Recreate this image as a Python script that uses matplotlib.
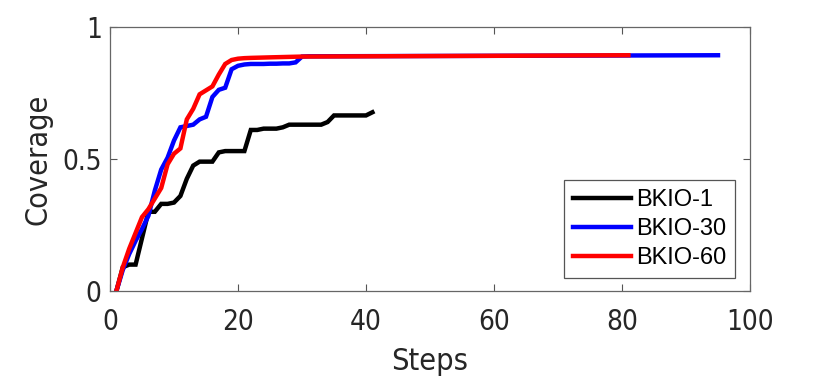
import matplotlib
matplotlib.use("Agg")
import matplotlib.pyplot as plt

# coverage per step
steps_1 = list(range(1, 42))
cov_1 = [0, 0.09, 0.1, 0.1, 0.2, 0.3, 0.3, 0.33, 0.33, 0.335,
         0.36, 0.425, 0.475, 0.49, 0.49, 0.49, 0.525, 0.53, 0.53, 0.53,
         0.53, 0.61, 0.61, 0.615, 0.615, 0.615, 0.62, 0.63, 0.63, 0.63,
         0.63, 0.63, 0.63, 0.64, 0.665, 0.665, 0.665, 0.665, 0.665, 0.665,
         0.677]

steps_30 = list(range(1, 32)) + [95]
cov_30 = [0, 0.08, 0.14, 0.19, 0.235, 0.285, 0.38, 0.46, 0.505, 0.57,
          0.62, 0.625, 0.63, 0.65, 0.66, 0.735, 0.762, 0.77, 0.84, 0.853,
          0.858, 0.86, 0.86, 0.86, 0.861, 0.861, 0.862, 0.862, 0.866, 0.888,
          0.889, 0.893]

steps_60 = list(range(1, 23)) + [25, 30, 81]
cov_60 = [0, 0.09, 0.16, 0.22, 0.28, 0.31, 0.35, 0.39, 0.48, 0.52,
          0.54, 0.65, 0.69, 0.745, 0.76, 0.775, 0.82, 0.86, 0.875, 0.88,
          0.882, 0.883, 0.885, 0.888, 0.893]

labels = ["BKIO-1", "BKIO-30", "BKIO-60"]
colors = ["black", "blue", "red"]

txt = "#262626"
cond = dict(family="DejaVu Sans", stretch="condensed")

fig = plt.figure(figsize=(8.3, 3.87), dpi=100)
ax = fig.add_axes([110/830, 1 - 291/387, 640/830, 264/387])

for xs, ys, lab, c in zip([steps_1, steps_30, steps_60], [cov_1, cov_30, cov_60], labels, colors):
    ax.plot(xs, ys, color=c, lw=3.2, label=lab, solid_joinstyle="miter")

ax.set_xlim(0, 100)
ax.set_ylim(0, 1)
ax.set_xticks([0, 20, 40, 60, 80, 100])
ax.set_yticks([0, 0.5, 1])
ax.set_yticklabels(["0", "0.5", "1"])

ax.tick_params(direction="in", length=5, width=0.8, color="#555555",
               top=True, right=True, labelcolor=txt)
ax.tick_params(axis="x", pad=12)
ax.tick_params(axis="y", pad=6)
for lbl in ax.get_xticklabels() + ax.get_yticklabels():
    lbl.set_fontproperties(dict(cond, size=20))
for s in ax.spines.values():
    s.set_color("#666666")
    s.set_linewidth(0.9)

ax.set_xlabel("Steps", fontsize=22, color=txt, labelpad=8, **cond)
ax.set_ylabel("Coverage", fontsize=22, color=txt, labelpad=7, **cond)

leg = ax.legend(loc="lower right", bbox_to_anchor=(0.9766, 0.049), borderaxespad=0,
                prop={"family": "Liberation Sans", "size": 17},
                fancybox=False, framealpha=1, edgecolor="#555555",
                handlelength=2.45, handletextpad=0.2, labelspacing=0.3,
                borderpad=0.38)
leg.get_frame().set_linewidth(0.9)

fig.savefig("out.png", dpi=100)
